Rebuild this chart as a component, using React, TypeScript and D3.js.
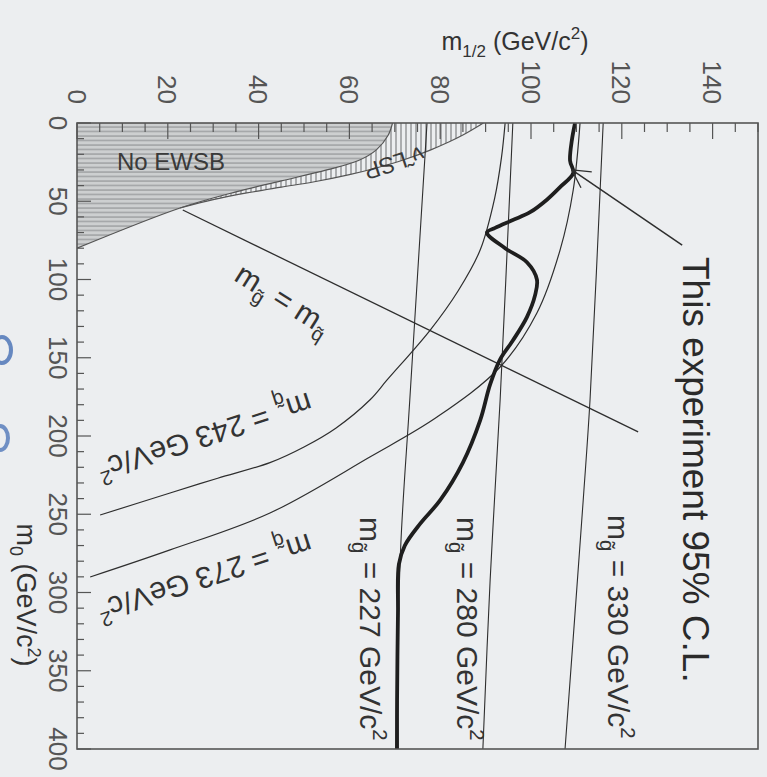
import React from "react";
import * as d3 from "d3";

const W = 767;
const H = 777;
const FONT = "'Liberation Sans', Arial, Helvetica, sans-serif";

// Axis ticks
const m12Ticks = [0, 20, 40, 60, 80, 100, 120, 140];
const m0Ticks = [0, 50, 100, 150, 200, 250, 300, 350, 400];

// 95% C.L. excluded-region boundary (m0, m1/2 in GeV/c^2)
const limitM0 = [0, 11, 24, 32, 41, 49, 57, 62, 67, 70, 80, 89, 100, 110, 124, 139, 151, 167, 190, 217, 241, 256, 270, 282, 313, 369, 400];
const limitM12 = [109.7, 109.0, 108.6, 109.3, 106.4, 103.5, 99.8, 96.0, 92.1, 90.3, 94.3, 99.1, 101.3, 100.9, 99.1, 96.0, 93.2, 91.0, 88.8, 85.0, 80.0, 75.6, 72.2, 70.9, 70.7, 70.5, 70.5];

// Squark iso-mass contours
const sq243M0 = [250.5, 236.4, 227, 217, 207, 195, 177, 164.2, 132.3, 107, 81.2, 48, 22, 0];
const sq243M12 = [5.1, 20.5, 31, 42.5, 50, 57, 64.5, 68.3, 77.8, 84, 88.8, 92, 93.5, 94.3];
const sq273M0 = [290.1, 272.8, 249.2, 213.4, 187.9, 155.9, 121.4, 81.2, 42.8, 0];
const sq273M12 = [2.9, 20.5, 42.5, 64.5, 79.3, 93.2, 101.3, 106.4, 109.3, 110.8];

// Gluino iso-mass contours
const gl227M0 = [0, 177, 271, 400];
const gl227M12 = [77.1, 73.3, 71.3, 70.2];
const gl280M0 = [0, 177, 292, 400];
const gl280M12 = [96.0, 93.2, 91.0, 89.4];
const gl330M0 = [0, 177, 241, 400];
const gl330M12 = [115.9, 113.0, 111.5, 107.5];

// m_gluino = m_squark line
const eqM0 = [55.6, 197.4];
const eqM12 = [23.3, 123.6];

// Theoretically excluded regions
const noEwsbM0 = [80, 54.3, 44, 37, 30, 24, 17, 8, 0];
const noEwsbM12 = [0, 22.7, 35, 45, 55, 62, 66, 68.5, 69.5];
const lspM0 = [54.3, 49, 44.7, 41, 37.7, 33, 28.1, 23.5, 17.3, 12, 7.7, 1.3, 0];
const lspM12 = [22.7, 30, 37.4, 45, 52, 60, 66.7, 72, 77.8, 82, 85, 88.8, 89.5];

// Annotation arrow: tail, tip
const arrowM0 = [78, 30];
const arrowM12 = [133.3, 109];

type P = [number, number];
const pts = (a: number[], b: number[]): P[] => a.map((v, i) => [v, b[i]] as P);

function MassLabel({ sub, value, fs }: { sub: string; value: string; fs: number }) {
  return (
    <>
      <tspan>m</tspan>
      <tspan fontSize={fs * 0.68} dy={fs * 0.28}>{sub}</tspan>
      <tspan dy={-fs * 0.28}>{` = ${value} GeV/c`}</tspan>
      <tspan fontSize={fs * 0.68} dy={-fs * 0.42}>2</tspan>
    </>
  );
}

export default function App() {
  // Screen layout: m1/2 runs left→right along the top, m0 runs top→bottom along the left.
  const x = d3.scaleLinear().domain([0, 150]).range([77, 758]);
  const y = d3.scaleLinear().domain([0, 400]).range([123, 749]);

  const smooth = d3
    .line<P>()
    .x((d) => x(d[1]))
    .y((d) => y(d[0]))
    .curve(d3.curveCatmullRom.alpha(0.5));
  const straight = d3
    .line<P>()
    .x((d) => x(d[1]))
    .y((d) => y(d[0]));

  const inner = pts(noEwsbM0, noEwsbM12);
  const outer = pts(lspM0, lspM12);

  const noEwsbArea = smooth(inner) + `L${x(0)},${y(0)}Z`;
  const lspArea =
    smooth(outer) + "L" + smooth([...inner].reverse().slice(0, -1)).slice(1) + "Z";

  const m12Minor = d3.range(0, 151, 5);
  const m0Minor = d3.range(0, 401, 10);

  const tail: P = [arrowM0[0], arrowM12[0]];
  const tip: P = [arrowM0[1], arrowM12[1]];
  const tx = x(tip[1]);
  const ty = y(tip[0]);
  const ang = Math.atan2(y(tail[0]) - ty, x(tail[1]) - tx);
  const barb = 20;
  const spread = 0.5;

  const ink = "#2e2e2e";

  return (
    <svg
      width={W}
      height={H}
      viewBox={`0 0 ${W} ${H}`}
      style={{ position: "fixed", left: 0, top: 0, background: "#eceef0" }}
      fontFamily={FONT}
    >
      <defs>
        <pattern id="hz" width="6" height="4.5" patternUnits="userSpaceOnUse">
          <rect width="6" height="4.5" fill="#cdcfd0" />
          <line x1="0" y1="1" x2="6" y2="1" stroke="#8a8c8e" strokeWidth="1" />
        </pattern>
        <pattern id="vt" width="5" height="6" patternUnits="userSpaceOnUse">
          <rect width="5" height="6" fill="#eceef0" />
          <line x1="1" y1="0" x2="1" y2="6" stroke="#6a6c6e" strokeWidth="1" />
        </pattern>
        <clipPath id="plot">
          <rect x={x(0)} y={y(0)} width={x(150) - x(0)} height={y(400) - y(0)} />
        </clipPath>
      </defs>

      <rect width={W} height={H} fill="#eceef0" />

      {/* scan marks at the page edge */}
      <ellipse cx={2} cy={350} rx={9} ry={13} fill="none" stroke="#3a66b0" strokeWidth={4} opacity={0.75} />
      <ellipse cx={0} cy={438} rx={8} ry={12} fill="none" stroke="#3a66b0" strokeWidth={4} opacity={0.7} />

      <g clipPath="url(#plot)">
        <path d={lspArea} fill="url(#vt)" stroke="none" />
        <path d={noEwsbArea} fill="url(#hz)" stroke="none" />
        <path d={smooth(inner) ?? ""} fill="none" stroke="#555" strokeWidth={1.2} />
        <path d={smooth(outer) ?? ""} fill="none" stroke="#555" strokeWidth={1.2} />

        <path d={straight(pts(eqM0, eqM12)) ?? ""} fill="none" stroke={ink} strokeWidth={1.3} />
        <path d={smooth(pts(sq243M0, sq243M12)) ?? ""} fill="none" stroke={ink} strokeWidth={1.2} />
        <path d={smooth(pts(sq273M0, sq273M12)) ?? ""} fill="none" stroke={ink} strokeWidth={1.2} />
        <path d={smooth(pts(gl227M0, gl227M12)) ?? ""} fill="none" stroke={ink} strokeWidth={1.1} />
        <path d={smooth(pts(gl280M0, gl280M12)) ?? ""} fill="none" stroke={ink} strokeWidth={1.1} />
        <path d={smooth(pts(gl330M0, gl330M12)) ?? ""} fill="none" stroke={ink} strokeWidth={1.1} />

        <path d={smooth(pts(limitM0, limitM12)) ?? ""} fill="none" stroke="#1e1e1e" strokeWidth={3.8} strokeLinejoin="round" />
      </g>

      {/* arrow from annotation to the limit curve */}
      <line x1={x(tail[1])} y1={y(tail[0])} x2={tx} y2={ty} stroke={ink} strokeWidth={1.5} />
      <line x1={tx} y1={ty} x2={tx + barb * Math.cos(ang - spread)} y2={ty + barb * Math.sin(ang - spread)} stroke={ink} strokeWidth={1.3} />
      <line x1={tx} y1={ty} x2={tx + barb * Math.cos(ang + spread)} y2={ty + barb * Math.sin(ang + spread)} stroke={ink} strokeWidth={1.3} />

      {/* frame and ticks */}
      <rect x={x(0)} y={y(0)} width={x(150) - x(0)} height={y(400) - y(0)} fill="none" stroke="#555" strokeWidth={1.6} />
      {m12Minor.map((t) => (
        <line key={"a" + t} x1={x(t)} x2={x(t)} y1={y(0)} y2={y(0) + (t % 20 === 0 ? 16 : 9)} stroke="#555" strokeWidth={1.2} />
      ))}
      {m0Minor.map((t) => (
        <line key={"b" + t} x1={x(0)} x2={x(0) + (t % 50 === 0 ? 14 : 7)} y1={y(t)} y2={y(t)} stroke="#555" strokeWidth={1.2} />
      ))}

      {/* tick labels */}
      {m12Ticks.map((t) => (
        <text key={"l" + t} transform={`translate(${x(t)},104) rotate(90)`} textAnchor="end" dy="0.36em" fontSize={26} fill="#555">
          {t}
        </text>
      ))}
      {m0Ticks.map((t) => (
        <text key={"m" + t} transform={`translate(58,${y(t)}) rotate(90)`} textAnchor="middle" dy="0.36em" fontSize={26} fill="#555">
          {t}
        </text>
      ))}

      {/* axis titles */}
      <text x={515} y={50} textAnchor="middle" fontSize={25} fill="#333">
        <tspan>m</tspan>
        <tspan fontSize={17} dy={7}>1/2</tspan>
        <tspan dy={-7}> (GeV/c</tspan>
        <tspan fontSize={17} dy={-11}>2</tspan>
        <tspan dy={11}>)</tspan>
      </text>
      <text transform={`translate(17,595) rotate(90)`} textAnchor="middle" fontSize={27} fill="#333">
        <tspan>m</tspan>
        <tspan fontSize={18} dy={7}>0</tspan>
        <tspan dy={-7}> (GeV/c</tspan>
        <tspan fontSize={18} dy={-11}>2</tspan>
        <tspan dy={11}>)</tspan>
      </text>

      {/* region labels */}
      <text x={117} y={170} fontSize={24} fill="#3a3a3a">No EWSB</text>
      <text transform={`translate(421,146) rotate(162)`} fontSize={23} fill="#3a3a3a">
        {"\u03BD\u0303 LSP"}
      </text>
      <text transform={`translate(244,262) rotate(32)`} fontSize={30} fill="#333" dy="0.7em">
        <tspan>m</tspan>
        <tspan fontSize={20} dy={8}>{"g\u0303"}</tspan>
        <tspan dy={-8}> = m</tspan>
        <tspan fontSize={20} dy={8}>{"q\u0303"}</tspan>
      </text>

      {/* contour labels */}
      <text transform={`translate(308,392) rotate(162)`} fontSize={30} fill="#333">
        <MassLabel sub={"q\u0303"} value="243" fs={30} />
      </text>
      <text transform={`translate(308,533) rotate(162)`} fontSize={30} fill="#333">
        <MassLabel sub={"q\u0303"} value="273" fs={30} />
      </text>
      <text transform={`translate(360,517) rotate(90)`} fontSize={30} fill="#333">
        <MassLabel sub={"g\u0303"} value="227" fs={30} />
      </text>
      <text transform={`translate(457,517) rotate(90)`} fontSize={30} fill="#333">
        <MassLabel sub={"g\u0303"} value="280" fs={30} />
      </text>
      <text transform={`translate(608,515) rotate(90)`} fontSize={30} fill="#333">
        <MassLabel sub={"g\u0303"} value="330" fs={30} />
      </text>

      <text transform={`translate(683,257) rotate(90)`} fontSize={37} fill="#2a2a2a">
        This experiment 95% C.L.
      </text>
    </svg>
  );
}
